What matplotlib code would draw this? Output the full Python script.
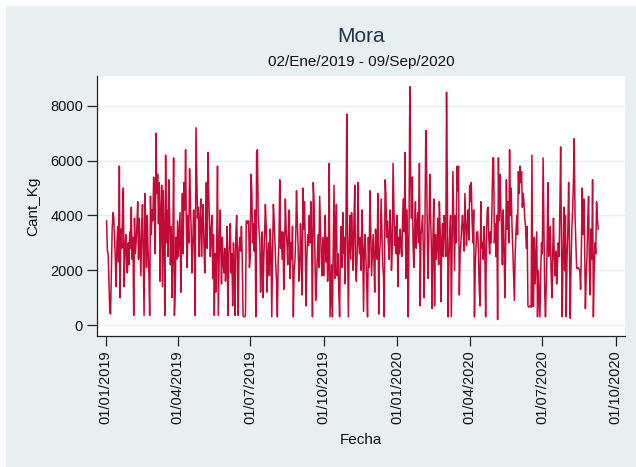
import numpy as np
import pandas as pd
import matplotlib
matplotlib.use('Agg')
import matplotlib.pyplot as plt
import matplotlib.dates as mdates
from matplotlib.patches import Rectangle

# Cantidad diaria (kg), un arreglo por mes
ene19 = [3800, 2700, 2600, 1600, 500, 400, 1900, 3500, 4100, 3900, 3200, 2400, 1400, 3000, 3600,
         2300, 5800, 1000, 3500, 2800, 4100, 5000, 1400, 2600, 3300, 2500, 1900, 3000, 2200, 3400]
feb19 = [2800, 4300, 2400, 3200, 350, 3900, 2600, 3000, 3600, 4500, 2400, 3900, 2800, 1800,
         3600, 4400, 2300, 350, 4800, 3600, 2100, 4000, 2700, 1900, 350, 4700, 3300, 4200]
mar19 = [3800, 5400, 4500, 2600, 7000, 4800, 5500, 3700, 5200, 1600, 4200, 5100, 1400, 4900, 3200,
         350, 6200, 3000, 4200, 2500, 5300, 4000, 2200, 3600, 1000, 2800, 6100, 350, 1200, 3200, 2400]
abr19 = [3800, 2500, 3300, 4100, 1200, 3200, 4800, 2600, 5200, 4200, 6400, 3500, 2100, 4000, 3000,
         5700, 4500, 3500, 1900, 2800, 4200, 3400, 350, 7200, 5600, 3900, 4300, 2500, 3800, 4600]
may19 = [2500, 3700, 4400, 3000, 1900, 3400, 5200, 2800, 6300, 4800, 3600, 2500, 3500, 4000, 1700,
         3300, 350, 2600, 1200, 3000, 5800, 350, 2200, 4200, 3000, 1500, 3200, 2300, 1900, 2800, 1600]
jun19 = [2200, 3600, 350, 2400, 3100, 3700, 1900, 2600, 700, 3000, 2200, 350, 3300, 4000, 2500,
         350, 2800, 3200, 2700, 3600, 2400, 350, 300, 300, 350, 3800, 3800, 3700, 3800, 2100]
jul19 = [2500, 5500, 4900, 3000, 3700, 2700, 4200, 300, 6300, 6400, 4000, 3500, 3100, 1200, 2200,
         3400, 1000, 2400, 3300, 4400, 3600, 1200, 2500, 3000, 1800, 3500, 2800, 300, 2600, 4400, 3800]
ago19 = [3000, 2200, 1600, 300, 2200, 3100, 5300, 2800, 3400, 2400, 3400, 1300, 2600, 4600, 3500,
         3000, 2200, 3600, 4200, 1700, 3000, 2400, 3600, 300, 2000, 2300, 3200, 4900, 3800, 2900, 1600]
sep19 = [2000, 3700, 2600, 1100, 5000, 3500, 4500, 2900, 700, 2500, 3300, 2900, 4000, 3000, 4500,
         2800, 300, 5200, 4500, 2600, 900, 1600, 2500, 3300, 2100, 4700, 3600, 2500, 1800, 3200]
oct19 = [1800, 3000, 4000, 2300, 3200, 1600, 2400, 5900, 300, 1300, 2200, 300, 2800, 5100, 1700,
         3400, 4400, 1800, 2600, 1200, 300, 2800, 3600, 2100, 4100, 2600, 3200, 1500, 3800, 7700, 2800]
nov19 = [300, 3000, 4000, 2400, 4100, 3200, 2000, 3800, 5100, 2200, 1600, 2600, 5200, 3000, 2600,
         3200, 2000, 4200, 2900, 500, 2800, 3300, 2400, 1500, 300, 3200, 2100, 4900, 3600, 1800]
dic19 = [2600, 3300, 2400, 1200, 3500, 2800, 2400, 4800, 400, 2600, 3000, 4600, 3400, 2200, 1800,
         300, 5300, 4800, 3200, 3800, 3000, 2400, 4200, 3600, 2000, 2800, 5900, 4300, 2900, 3600, 2600]
ene20 = [4000, 1400, 3200, 2600, 3500, 2900, 2500, 4000, 4600, 3400, 6300, 1700, 4200, 3100, 300,
         3600, 8700, 5600, 3900, 5400, 3000, 2100, 3600, 4500, 2800, 3600, 4100, 3000, 5900, 700, 3300]
feb20 = [3600, 4000, 2600, 1000, 3800, 7100, 5800, 3000, 1700, 3600, 5500, 4000, 2800, 600, 3200,
         4600, 700, 3300, 2400, 2900, 3900, 2200, 4500, 3500, 850, 3100, 3700, 2500, 4000]
mar20 = [3700, 2500, 8500, 5000, 300, 2400, 3300, 4000, 300, 2800, 5600, 3800, 2000, 4000, 3000,
         5800, 4900, 5800, 1100, 2600, 3000, 3600, 4000, 3400, 2700, 4800, 3900, 2900, 3600, 4200, 3100]
abr20 = [5100, 4500, 5200, 3800, 3000, 4200, 300, 2200, 2900, 3400, 3400, 2600, 1300, 700, 4500,
         2800, 3000, 2400, 3600, 2600, 300, 3200, 4200, 4300, 3100, 2600, 3400, 3000, 4400, 6100]
may20 = [6100, 3000, 3700, 2500, 4000, 200, 6100, 3800, 5500, 4300, 3500, 2200, 4200, 3100, 1000,
         2600, 5300, 3500, 4500, 3000, 6400, 4000, 5000, 3600, 2800, 1800, 900, 2600, 3400, 4000, 3300]
jun20 = [5600, 4800, 5800, 5200, 5600, 4300, 4800, 4500, 3900, 3600, 2800, 3600, 700, 650, 680,
         700, 650, 6200, 700, 680, 3200, 1500, 2400, 3400, 300, 2000, 1200, 300, 1900, 3000]
jul20 = [2600, 6100, 3500, 1200, 300, 1500, 2800, 5200, 2500, 3200, 3600, 2000, 1000, 2600, 3900,
         2400, 1800, 2700, 1500, 2200, 3000, 2500, 4300, 6500, 3000, 300, 2600, 4300, 2000, 4000, 300]
ago20 = [2500, 3400, 5200, 3000, 250, 2200, 3500, 4200, 5200, 6800, 4000, 3000, 2100, 2050, 2100,
         2050, 2000, 1300, 2800, 5000, 3300, 4600, 3000, 600, 1800, 2500, 3900, 4700, 2000, 1100, 3500]
sep20 = [2400, 5300, 300, 2000, 3000, 2600, 4500, 3900, 3500]

meses = [('2019-01-02', ene19), ('2019-02-01', feb19), ('2019-03-01', mar19), ('2019-04-01', abr19),
         ('2019-05-01', may19), ('2019-06-01', jun19), ('2019-07-01', jul19), ('2019-08-01', ago19),
         ('2019-09-01', sep19), ('2019-10-01', oct19), ('2019-11-01', nov19), ('2019-12-01', dic19),
         ('2020-01-01', ene20), ('2020-02-01', feb20), ('2020-03-01', mar20), ('2020-04-01', abr20),
         ('2020-05-01', may20), ('2020-06-01', jun20), ('2020-07-01', jul20), ('2020-08-01', ago20),
         ('2020-09-01', sep20)]

tick_dates = ['2019-01-01', '2019-04-01', '2019-07-01', '2019-10-01',
              '2020-01-01', '2020-04-01', '2020-07-01', '2020-10-01']
y_ticks = [0, 2000, 4000, 6000, 8000]

partes = []
for inicio, vals in meses:
    partes.append(pd.Series(vals, index=pd.date_range(inicio, periods=len(vals), freq='D')))
serie = pd.concat(partes)

bg = '#e8eff1'
fig = plt.figure(figsize=(6.36, 4.67), dpi=100)
fig.patch.set_facecolor('white')
fig.patches.append(Rectangle((6/636, 0), 1, 1 - 6/467, transform=fig.transFigure,
                             facecolor=bg, edgecolor='none', zorder=-10))

ax = fig.add_axes([97/636, 1 - 336/467, (625.3 - 97)/636, (336 - 75.7)/467])
ax.set_facecolor('white')
ax.plot(serie.index, serie.values, color='#c20a37', linewidth=1.1)

ax.set_ylim(-400, 9100)
ax.set_xlim(pd.Timestamp('2018-12-21'), pd.Timestamp('2020-10-13'))
ax.set_yticks(y_ticks)
ax.set_yticklabels([str(v) for v in y_ticks])
ax.set_xticks(pd.to_datetime(tick_dates))
ax.xaxis.set_major_formatter(mdates.DateFormatter('%d/%m/%Y'))
plt.setp(ax.get_xticklabels(), rotation=90)

ax.grid(axis='y', color='#e6eff2', linewidth=1.0)
ax.set_axisbelow(True)
for s in ['top', 'right']:
    ax.spines[s].set_visible(False)
for s in ['left', 'bottom']:
    ax.spines[s].set_color('#222222')
    ax.spines[s].set_linewidth(0.9)
ax.tick_params(axis='both', direction='out', length=7, width=0.9, color='#222222',
               labelsize=10.5, labelcolor='#111111', pad=3)
for lab in ax.get_xticklabels() + ax.get_yticklabels():
    lab.set_fontfamily('Liberation Sans')

fig.text(361/636, 1 - 37/467, 'Mora', ha='center', va='center', fontsize=15,
         color='#1e3350', family='Liberation Sans')
fig.text(361/636, 1 - 62/467, '02/Ene/2019 - 09/Sep/2020', ha='center', va='center',
         fontsize=11, color='#111111', family='Liberation Sans')
fig.text(361/636, 1 - 440/467, 'Fecha', ha='center', va='center', fontsize=11,
         color='#111111', family='Liberation Sans')
fig.text(33/636, 1 - 206/467, 'Cant_Kg', ha='center', va='center', rotation=90,
         fontsize=11, color='#111111', family='Liberation Sans')

fig.savefig('out.png', dpi=100, facecolor=fig.get_facecolor())
